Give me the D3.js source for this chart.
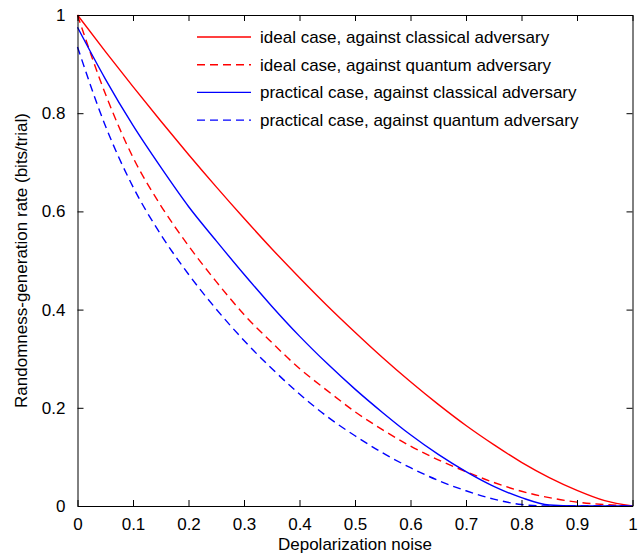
<!DOCTYPE html>
<html>
<head>
<meta charset="utf-8">
<script src="https://cdn.jsdelivr.net/npm/d3@7"></script>
<style>
  html, body { margin: 0; padding: 0; background: #fff; }
  svg { display: block; }
  text { font-family: "Liberation Sans", Arial, Helvetica, sans-serif; }
</style>
</head>
<body>
<svg id="chart" width="640" height="555"></svg>
<script>
// ---- data ----
const noise = [0, 0.05, 0.1, 0.15, 0.2, 0.25, 0.3, 0.35, 0.4, 0.45, 0.5,
               0.55, 0.6, 0.65, 0.7, 0.75, 0.8, 0.85, 0.9, 0.95, 1.0];
const idealClassical = [1.0, 0.926, 0.854, 0.784, 0.716, 0.650, 0.586, 0.524, 0.465, 0.408, 0.354,
                        0.302, 0.253, 0.207, 0.164, 0.125, 0.089, 0.058, 0.032, 0.011, 0.0];
const idealQuantum = [1.0, 0.84, 0.71, 0.612, 0.53, 0.457, 0.39, 0.333, 0.28, 0.235, 0.192,
                      0.155, 0.122, 0.094, 0.07, 0.048, 0.03, 0.017, 0.008, 0.003, 0.0];
const practicalClassical = [0.975, 0.87, 0.775, 0.69, 0.61, 0.54, 0.472, 0.407, 0.346, 0.29, 0.238,
                            0.19, 0.145, 0.105, 0.07, 0.04, 0.017, 0.002, 0, 0, 0];
const practicalQuantum = [0.935, 0.775, 0.65, 0.553, 0.472, 0.401, 0.337, 0.28, 0.228, 0.182, 0.143,
                          0.108, 0.078, 0.052, 0.031, 0.014, 0.003, 0, 0, 0, 0];
const seriesNames = ["ideal case, against classical adversary",
                     "ideal case, against quantum adversary",
                     "practical case, against classical adversary",
                     "practical case, against quantum adversary"];
const seriesColors = ["#ff0000", "#ff0000", "#0000ff", "#0000ff"];
const seriesDashed = [false, true, false, true];
const xTicks = [0, 0.1, 0.2, 0.3, 0.4, 0.5, 0.6, 0.7, 0.8, 0.9, 1];
const xTickLabels = ["0", "0.1", "0.2", "0.3", "0.4", "0.5", "0.6", "0.7", "0.8", "0.9", "1"];
const yTicks = [0, 0.2, 0.4, 0.6, 0.8, 1];
const yTickLabels = ["0", "0.2", "0.4", "0.6", "0.8", "1"];
const xTitle = "Depolarization noise";
const yTitle = "Randomness-generation rate (bits/trial)";

// ---- layout ----
const L = 77.5, R = 632.5, T = 15, B = 506;
const svg = d3.select("#chart");
const xs = d3.scaleLinear().domain([0, 1]).range([L, R]);
const ys = d3.scaleLinear().domain([0, 1]).range([B, T]);
const fs = 17;
const tickLen = 6;

const allSeries = [idealClassical, idealQuantum, practicalClassical, practicalQuantum];

// data lines
const lineGen = d3.line().x((d, i) => xs(noise[i])).y(d => ys(d)).curve(d3.curveMonotoneX);
const plotG = svg.append("g");
allSeries.forEach((s, k) => {
  plotG.append("path")
    .attr("d", lineGen(s))
    .attr("fill", "none")
    .attr("stroke", seriesColors[k])
    .attr("stroke-width", 1.4)
    .attr("stroke-dasharray", seriesDashed[k] ? "8,5" : null);
});

// axes (box with inward ticks)
const axG = svg.append("g");
const fmtX = (d, i) => xTickLabels[i];
const fmtY = (d, i) => yTickLabels[i];

axG.append("g").attr("transform", `translate(0,${B})`)
  .call(d3.axisBottom(xs).tickValues(xTicks).tickFormat(fmtX).tickSizeInner(-tickLen).tickSizeOuter(0).tickPadding(12));
axG.append("g").attr("transform", `translate(0,${T})`)
  .call(d3.axisTop(xs).tickValues(xTicks).tickFormat("").tickSizeInner(-tickLen).tickSizeOuter(0));
axG.append("g").attr("transform", `translate(${L},0)`)
  .call(d3.axisLeft(ys).tickValues(yTicks).tickFormat(fmtY).tickSizeInner(-tickLen).tickSizeOuter(0).tickPadding(12));
axG.append("g").attr("transform", `translate(${R},0)`)
  .call(d3.axisRight(ys).tickValues(yTicks).tickFormat("").tickSizeInner(-tickLen).tickSizeOuter(0));

axG.selectAll(".domain").attr("stroke", "#000").attr("stroke-width", 1);
axG.selectAll(".tick line").attr("stroke", "#000").attr("stroke-width", 1);
axG.selectAll(".tick text").attr("font-size", fs).attr("fill", "#000")
  .attr("font-family", "'Liberation Sans', Arial, sans-serif");

// axis titles
svg.append("text")
  .attr("x", (L + R) / 2).attr("y", 550)
  .attr("text-anchor", "middle").attr("font-size", fs).attr("fill", "#000")
  .text(xTitle);
svg.append("text")
  .attr("transform", `translate(27,${(T + B) / 2}) rotate(-90)`)
  .attr("text-anchor", "middle").attr("font-size", fs).attr("fill", "#000")
  .text(yTitle);

// legend
const lg = svg.append("g");
seriesNames.forEach((name, k) => {
  const yy = 37 + k * 27.7;
  lg.append("line")
    .attr("x1", 197).attr("x2", 251).attr("y1", yy).attr("y2", yy)
    .attr("stroke", seriesColors[k]).attr("stroke-width", 1.4)
    .attr("stroke-dasharray", seriesDashed[k] ? "8,5" : null);
  lg.append("text")
    .attr("x", 260).attr("y", yy + 6)
    .attr("font-size", fs).attr("fill", "#000")
    .text(name);
});
</script>
</body>
</html>
